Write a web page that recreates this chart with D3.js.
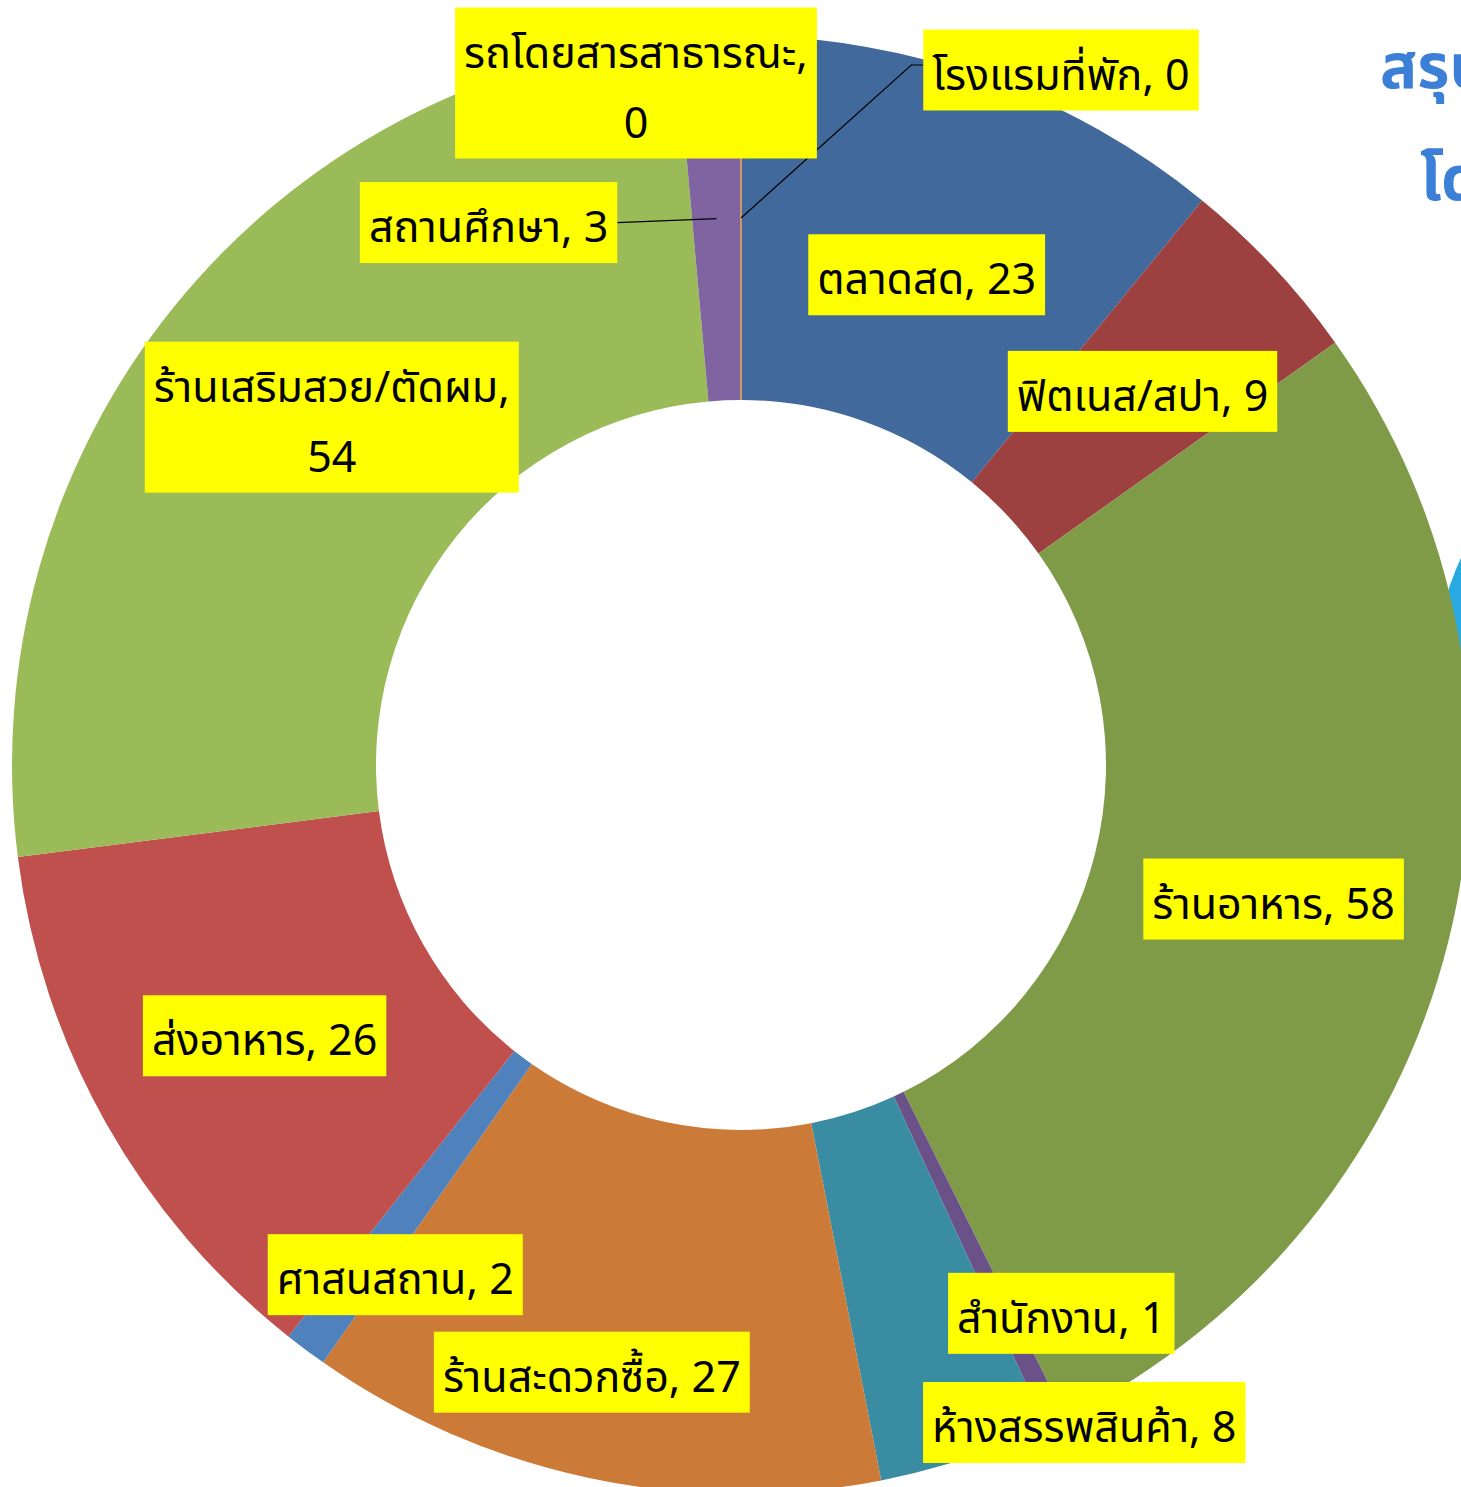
<!DOCTYPE html>
<html>
<head>
<meta charset="utf-8">
<script src="https://cdn.jsdelivr.net/npm/d3@7"></script>
<style>
  html, body { margin: 0; padding: 0; background: #fff; overflow: hidden; }
  svg { display: block; }
  .lbl { font-family: "Noto Sans Thai", "Noto Sans Thai Looped", Tahoma, "Noto Sans", sans-serif; font-size: 43px; fill: #000; }
  .title { font-family: "Noto Sans Thai", Tahoma, "Noto Sans", sans-serif; font-size: 62px; font-weight: bold; fill: #3B7FD6; }
</style>
</head>
<body>
<div id="chart"></div>
<script>
// data, clockwise from 12 o'clock
var categories = ["ตลาดสด", "ฟิตเนส/สปา", "ร้านอาหาร", "สำนักงาน", "ห้างสรรพสินค้า",
                  "ร้านสะดวกซื้อ", "ศาสนสถาน", "ส่งอาหาร", "ร้านเสริมสวย/ตัดผม", "สถานศึกษา",
                  "รถโดยสารสาธารณะ", "โรงแรมที่พัก"];
var values = [23, 9, 58, 1, 8, 27, 2, 26, 54, 3, 0, 0];
var colors = ["#41699B", "#9C4140", "#809B48", "#6A5289", "#3A8CA3",
              "#CC7A38", "#4F81BD", "#C0504D", "#9BBB59", "#8064A2",
              "#4BACC6", "#F79646"];

// label placement: nudge from arc centroid, two-line wrap, leader line
var labelDx = [2, 2, 2, 84, 175, -36, -19, 0, 17, -228, -105, 320];
var labelDy = [25, 0, 1, 55, 137, 72, 71, 2, -5, 4, -135, -148];
var labelWrap = [false, false, false, false, false, false, false, false, true, false, true, false];
var labelLeader = [false, false, false, false, false, false, false, false, false, true, false, true];

var width = 1461, height = 1487;
var cx = 741, cy = 765;
var outerR = 729, innerR = 365;

var svg = d3.select("#chart").append("svg")
    .attr("width", width)
    .attr("height", height);

// decoration shape peeking in at right edge
svg.append("ellipse")
    .attr("cx", 1560).attr("cy", 680)
    .attr("rx", 125).attr("ry", 200)
    .style("fill", "#29A9E1");

// partial title at top right (runs off the page as in the source)
var title = svg.append("g");
title.append("text").attr("class", "title").attr("x", 1380).attr("y", 88).text("สรุป");
title.append("text").attr("class", "title").attr("x", 1420).attr("y", 200).text("โด");

var g = svg.append("g").attr("transform", "translate(" + cx + "," + cy + ")");

var pie = d3.pie().sort(null).value(function(d) { return d; });
var arcs = pie(values);
var arc = d3.arc().innerRadius(innerR).outerRadius(outerR);
var mid = d3.arc().innerRadius((innerR + outerR) / 2).outerRadius((innerR + outerR) / 2);

g.selectAll("path.slice")
    .data(arcs)
    .enter().append("path")
    .attr("class", "slice")
    .attr("d", arc)
    .style("fill", function(d, i) { return colors[i]; })
    .style("stroke", function(d, i) { return d.value == 0 ? colors[i] : "none"; })
    .style("stroke-width", 1);

// labels
var lg = g.append("g");
arcs.forEach(function(d, i) {
    var c = mid.centroid(d);
    var bx = c[0] + labelDx[i], by = c[1] + labelDy[i];
    var lines = labelWrap[i] ? [categories[i] + ",", String(values[i])] : [categories[i] + ", " + values[i]];
    var h = 81 + 70 * (lines.length - 1);
    var grp = lg.append("g");
    var rect = grp.append("rect").style("fill", "#FFFF00");
    var maxW = 0;
    lines.forEach(function(t, k) {
        var tx = grp.append("text").attr("class", "lbl")
            .attr("x", bx).attr("y", by - h / 2 + 60 + 70 * k)
            .attr("text-anchor", "middle")
            .text(t);
        maxW = Math.max(maxW, tx.node().getComputedTextLength());
    });
    var w = maxW + 18;
    rect.attr("x", bx - w / 2).attr("y", by - h / 2).attr("width", w).attr("height", h);
    if (labelLeader[i]) {
        var pts;
        if (bx < c[0]) {
            pts = [[bx + w / 2, by], c];
        } else {
            pts = [[bx - w / 2, by - 5], [bx - w / 2 - 12, by - 5], c];
        }
        lg.insert("path", ":first-child")
            .attr("d", d3.line()(pts))
            .style("fill", "none")
            .style("stroke", "#000")
            .style("stroke-width", 1.2);
    }
});
</script>
</body>
</html>
